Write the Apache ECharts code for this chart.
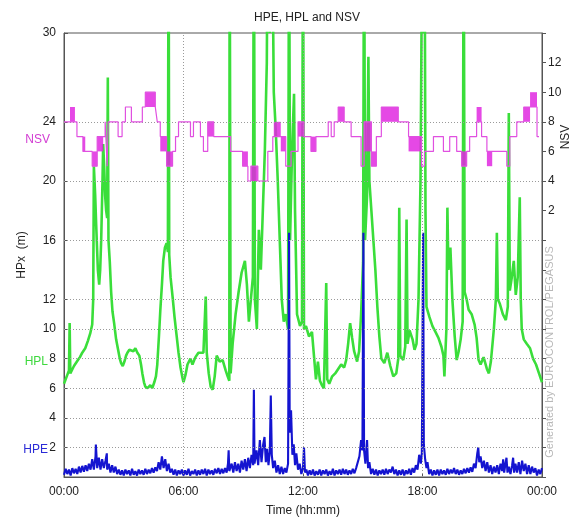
<!DOCTYPE html>
<html>
<head>
<meta charset="utf-8">
<script src="https://cdn.jsdelivr.net/npm/echarts@6/dist/echarts.min.js"></script>
<style>html,body{margin:0;padding:0;background:#fff}#c{width:578px;height:522px}</style>
</head>
<body>
<div id="c"></div>
<script>
// time in minutes since 00:00
const timeTicks = [0, 360, 720, 1080, 1440];
const timeLabels = ['00:00', '06:00', '12:00', '18:00', '00:00'];
const leftTicks = [2, 4, 6, 8, 10, 12, 16, 20, 24, 30];
const rightTicks = [2, 4, 6, 8, 10, 12];
const gridY = [2, 4, 6, 8, 10, 12, 16, 20, 24];
const gridX = [360, 720, 1080];

// HPL (m): [minute, value]
const hpl = [[0,6.3],[5,6.6],[10,6.9],[15,7.2],[17,10.4],[19,7.0],[25,6.9],[30,7.5],[36,7.6],[42,7.9],[48,8.1],[55,8.4],[64,8.7],[72,9.2],[79,9.7],[85,10.3],[88,12],[90,21.0],[94,19],[97,17],[102,14],[106,13.0],[109,14],[112,16],[116,20],[118,22.5],[121,21],[124,19],[127,18],[130,17.5],[132,27],[134,16],[138,14.5],[142,12.5],[146,11.2],[151,10.4],[157,9.3],[163,8.6],[168,8.0],[172,7.7],[177,7.5],[182,7.8],[187,8.2],[191,8.4],[197,8.6],[203,8.7],[209,8.5],[215,8.7],[221,8.4],[227,8.2],[232,7.6],[236,7.0],[241,6.4],[245,6.1],[252,6.0],[260,6.2],[266,6.0],[272,6.4],[277,6.8],[281,7.6],[286,9.5],[290,11.2],[295,13],[299,14.6],[304,15.5],[309,15.8],[313,15.2],[315,40],[317,15],[321,13.5],[327,12.2],[333,10.8],[339,9.6],[345,8.4],[351,7.4],[356,6.8],[360,6.4],
[366,6.9],[372,7.6],[381,8.0],[387,7.6],[396,8.1],[405,8.4],[411,8.5],[420,8.4],[427,12.2],[430,8.4],[436,7.0],[442,6.1],[448,5.9],[454,6.8],[460,8.2],[469,7.8],[478,7.9],[487,7.2],[493,6.8],[498,6.5],[499,40],[502,7.0],[508,9],[517,11],[526,12.5],[535,13.8],[545,14.6],[551,13],[557,10.5],[563,12],[569,13.5],[572,40],[575,12],[581,10],[587,16.7],[593,14],[599,18],[605,22],[611,28],[614,40],[620,30],[626,40],[632,26],[638,23.4],[644,20],[650,16],[656,12],[662,10.5],[668,11],[675,10],[678,40],[681,16],[687,22],[693,25.9],[696,18],[702,11],[711,10.2],[717,10.5],[720,40],[723,10],
[729,10.2],[738,9.5],[747,9.8],[753,9.8],[759,6.6],[765,7.8],[771,6.5],[777,6.2],[783,6.0],[790,13.1],[793,6.6],[799,6.3],[808,6.8],[817,7.0],[826,7.3],[835,7.6],[844,7.4],[850,7.9],[856,9.0],[862,10.4],[868,9.4],[874,8.5],[883,7.8],[889,8.5],[895,11],[901,14.5],[904,40],[907,16],[913,19],[917,28.4],[920,20],[926,18],[932,16],[938,14],[944,11.5],[950,9.5],[956,8.0],[965,7.7],[974,8.4],[983,7.5],[992,6.8],[1001,7.0],[1007,8.0],[1010,18.2],[1013,8.2],[1022,7.9],[1028,8.8],[1032,17.4],[1035,9.0],[1041,9.9],[1050,9.3],[1056,8.6],[1062,9.0],[1068,12],[1074,20],[1080,40],[1083,30],[1086,40],[1089,18],
[1092,11.5],[1101,10.8],[1110,10.2],[1119,9.8],[1128,9.4],[1137,8.8],[1143,8.2],[1146,6.8],[1152,10],[1155,18.2],[1158,14],[1164,15.5],[1170,12],[1177,9.5],[1183,7.9],[1189,8.5],[1195,9.3],[1201,10.5],[1204,40],[1207,12.5],[1213,12.0],[1219,11.3],[1228,11.0],[1237,10.3],[1243,9.4],[1249,7.9],[1255,7.6],[1264,8.1],[1274,7.3],[1280,7.0],[1286,7.8],[1295,10],[1301,12],[1304,16.5],[1307,12],[1313,11.7],[1322,11.0],[1331,10.6],[1337,11.5],[1340,24.6],[1343,12.6],[1349,13.5],[1355,14.6],[1361,12.3],[1367,13.5],[1373,18.9],[1376,12],[1379,10],[1385,9.3],[1394,9.0],[1404,8.7],[1413,8.0],[1422,7.6],[1431,7.0],[1440,6.4]];

// HPE (m): [minute, value] (read along the noisy band, low/high extremes)
const hpe = [[0,0.15],[5,0.55],[10,0.2],[15,0.5],[20,0.1],[25,0.6],[30,0.25],[35,0.55],[40,0.2],[45,0.7],[50,0.3],[55,0.75],[60,0.35],[65,0.8],[70,0.4],[75,0.9],[80,0.5],
[85,1.2],[90,0.5],[95,1.4],[96,2.2],[100,0.6],[105,1.3],[110,0.5],[115,1.2],[120,0.6],[125,1.1],[129,1.6],[130,0.5],
[135,0.9],[140,0.3],[145,0.8],[150,0.3],[155,0.7],[160,0.2],
[165,0.5],[170,0.15],[175,0.45],[180,0.1],[185,0.5],[190,0.2],[195,0.45],[200,0.1],[205,0.55],[210,0.15],[215,0.4],[220,0.1],[225,0.5],[230,0.2],[235,0.45],[240,0.15],[245,0.55],[250,0.2],[255,0.5],[260,0.25],[265,0.6],[270,0.3],[275,0.65],
[280,0.4],[285,1.0],[290,0.5],[295,1.4],[300,0.6],[305,1.2],[310,0.4],[315,0.9],[320,0.3],
[325,0.55],[330,0.15],[335,0.5],[340,0.1],[345,0.45],[350,0.2],[355,0.5],[360,0.1],[365,0.45],[370,0.15],[375,0.55],[380,0.1],[385,0.4],[390,0.2],[395,0.5],[400,0.1],[405,0.45],[410,0.15],[415,0.5],[420,0.2],[425,0.55],[430,0.1],[435,0.5],[440,0.2],[445,0.45],[450,0.15],[455,0.55],[460,0.25],[465,0.6],[470,0.2],[475,0.55],[480,0.25],[485,0.6],
[490,0.3],[494,0.9],[496,1.8],[498,0.4],[505,0.9],[510,0.3],[515,1.0],[520,0.4],[525,0.9],[530,0.3],[535,1.1],[540,0.5],[545,1.2],[550,0.4],[555,1.3],
[560,0.6],[565,1.5],[570,0.8],[572,5.9],[574,0.9],[580,1.8],[585,0.8],[590,2.5],[595,1.0],[600,2.2],[604,2.7],[608,1.0],[612,1.9],[616,0.8],[620,1.7],[623,5.5],[626,1.5],[630,0.6],
[635,1.1],[640,0.3],[645,0.8],[650,0.2],[655,0.7],[660,0.2],[665,0.6],[670,0.3],[675,0.9],[678,16.5],
[680,3.0],[684,4.5],[688,1.5],[692,2.2],[696,0.8],[700,1.6],[705,0.5],[710,0.9],[715,0.2],[720,0.6],[723,2.0],[726,0.3],
[730,0.5],[735,0.1],[740,0.45],[745,0.15],[750,0.5],[755,0.1],[760,0.4],[765,0.15],[770,0.5],[775,0.1],[780,0.45],[785,0.2],[790,0.5],[795,0.1],[800,0.4],[805,0.15],[810,0.55],[815,0.1],[820,0.45],[825,0.2],[830,0.5],[835,0.15],[840,0.55],[845,0.2],[850,0.5],[855,0.15],[860,0.45],[865,0.2],[870,0.55],[875,0.25],[880,0.6],
[885,0.5],[890,1.4],[895,2.5],[899,1.8],[902,16.5],[904,1.8],[908,0.9],[913,2.5],[916,0.6],[920,1.0],
[925,0.2],[930,0.55],[935,0.15],[940,0.5],[945,0.1],[950,0.45],[955,0.2],[960,0.5],[965,0.15],[970,0.55],[975,0.2],[980,0.5],[985,0.3],[990,0.7],[995,0.2],[1000,0.5],[1005,0.1],[1010,0.45],[1015,0.15],[1020,0.5],[1025,0.1],[1030,0.45],[1035,0.2],[1040,0.55],[1045,0.15],[1050,0.6],[1055,0.3],
[1060,0.8],[1065,0.5],[1070,1.5],[1075,0.9],[1078,1.6],[1082,16.5],[1084,2.2],[1088,1.2],[1092,0.6],[1095,1.0],
[1100,0.2],[1105,0.5],[1110,0.1],[1115,0.45],[1120,0.15],[1125,0.5],[1130,0.1],[1135,0.5],[1140,0.2],[1145,0.45],[1150,0.15],[1155,0.55],[1160,0.2],[1165,0.5],[1170,0.25],[1175,0.6],[1180,0.2],[1185,0.5],[1190,0.15],[1195,0.45],[1200,0.2],[1205,0.55],[1210,0.25],[1215,0.6],[1220,0.3],[1225,0.65],[1230,0.35],
[1235,0.9],[1240,0.6],[1245,1.6],[1248,2.0],[1251,1.0],[1255,1.4],[1260,0.6],[1265,1.1],
[1270,0.4],[1275,1.0],[1280,0.3],[1285,0.8],[1290,0.2],[1295,0.7],[1300,0.3],[1305,0.8],[1310,0.2],[1315,0.9],[1320,0.4],[1323,1.2],[1326,0.3],[1330,0.9],[1333,1.3],[1336,0.3],[1340,0.7],[1345,0.2],[1350,0.8],[1353,1.3],[1356,0.3],[1360,0.9],[1365,0.3],[1370,1.0],[1375,0.2],[1380,1.1],[1385,0.4],[1390,0.9],[1395,0.2],[1400,0.8],[1405,0.2],[1410,0.7],[1415,0.3],[1420,0.6],[1425,0.1],[1430,0.5],[1435,0.2],[1440,0.6]];

// NSV steps: [minute, satellites] (value held until next point)
const nsv = [[0,8],[39,7],[57,6],[85,5],[100,7],[124,8],[130,5],[133,8],[163,7],[175,8],[185,9],[203,8],[236,9],[245,10],[275,9],[281,8],[290,7],[309,5],[327,6],[336,7],[345,8],[381,7],[390,8],[411,7],[420,6],[433,8],[451,7],[502,6],[538,5],[554,4],[563,5],[584,4],[614,6],[629,7],[668,5],[684,6],[705,8],[723,7],[744,6],[759,7],[796,8],[805,7],[814,8],[826,9],[844,8],[865,7],[895,5],[904,8],[926,5],[941,7],[956,9],[1007,8],[1038,7],[1077,5],[1086,6],[1113,7],[1143,6],[1162,7],[1183,6],[1198,5],[1213,6],[1222,7],[1243,8],[1258,7],[1274,6],[1334,5],[1343,7],[1364,8],[1385,9],[1404,9],[1425,7],[1431,7]];

// NSV rapid toggling intervals: [start minute, end minute, low, high]
const nsvBlocks = [[18,33,8,9],[57,64,6,7],[85,100,5,6],[100,118,6,7],[245,275,9,10],[290,309,6,7],[309,327,5,6],[433,451,7,8],[538,554,5,6],[563,584,4,5],[632,653,7,8],[653,668,6,7],[705,723,7,8],[744,759,6,7],[826,844,8,9],[904,926,6,8],[926,941,5,6],[956,1007,8,9],[1038,1077,6,7],[1198,1213,5,6],[1243,1258,8,9],[1274,1290,5,6],[1385,1404,8,9],[1404,1425,9,10]];

const FONT = 'Liberation Sans, Arial, sans-serif';
const txt = {fontFamily: FONT, fontSize: 12, color: '#222'};
const chart = echarts.init(document.getElementById('c'), null, {renderer: 'canvas'});
chart.setOption({
  animation: false,
  backgroundColor: '#fff',
  title: {text: 'HPE, HPL and NSV', left: 302, top: 7, textAlign: 'center',
    textStyle: {fontFamily: FONT, fontSize: 12, fontWeight: 'normal', color: '#222'}},
  grid: {left: 64, right: 36, top: 33, bottom: 45, show: true, borderColor: '#555', borderWidth: 1, backgroundColor: '#fff'},
  xAxis: {
    type: 'value', min: 0, max: 1440, interval: 360,
    name: 'Time (hh:mm)', nameLocation: 'middle', nameGap: 28,
    nameTextStyle: txt,
    axisLine: {lineStyle: {color: '#555'}},
    axisTick: {inside: true, length: 4, lineStyle: {color: '#555'}},
    axisLabel: Object.assign({margin: 9, formatter: v => timeLabels[timeTicks.indexOf(v)] || ''}, txt),
    splitLine: {show: false}
  },
  yAxis: [{
    type: 'value', min: 0, max: 30, interval: 2, position: 'left',
    name: 'HPx  (m)', nameLocation: 'middle', nameGap: 36, nameRotate: 90,
    nameTextStyle: txt,
    axisLine: {show: true, lineStyle: {color: '#555'}},
    axisTick: {inside: true, length: 4, lineStyle: {color: '#555'}, customValues: leftTicks},
    axisLabel: Object.assign({margin: 8, customValues: leftTicks,
      formatter: v => leftTicks.indexOf(v) >= 0 ? String(v) : ''}, txt),
    splitLine: {show: false}
  }, {
    type: 'value', min: -16, max: 14, interval: 2, position: 'right',
    axisLine: {show: true, lineStyle: {color: '#555'}},
    axisTick: {inside: false, length: 4, lineStyle: {color: '#555'}},
    axisLabel: Object.assign({margin: 6, formatter: v => rightTicks.indexOf(v) >= 0 ? String(v) : ''}, txt),
    splitLine: {show: false}
  }],
  graphic: [
    {type: 'text', position: [566, 137], rotation: Math.PI / 2, style: {text: 'NSV', align: 'center', verticalAlign: 'middle', fill: '#222', font: '12px ' + FONT}},
    {type: 'text', position: [50, 140], style: {text: 'NSV', align: 'right', verticalAlign: 'middle', fill: '#d23cd2', font: '12px ' + FONT}},
    {type: 'text', position: [48, 362], style: {text: 'HPL', align: 'right', verticalAlign: 'middle', fill: '#3ed83e', font: '12px ' + FONT}},
    {type: 'text', position: [48, 450], style: {text: 'HPE', align: 'right', verticalAlign: 'middle', fill: '#2a2ad6', font: '12px ' + FONT}},
    {type: 'text', position: [550, 352], rotation: Math.PI / 2, style: {text: 'Generated by EUROCONTROL/PEGASUS', align: 'center', verticalAlign: 'middle', fill: '#b8b8b8', font: '11px ' + FONT}}
  ],
  series: [
    {
      type: 'line', name: 'grid', data: [], z: 1, silent: true,
      markLine: {
        silent: true, symbol: 'none', label: {show: false}, animation: false,
        lineStyle: {type: [1, 2], color: '#9a9a9a', width: 1},
        data: gridY.map(v => ({yAxis: v})).concat(gridX.map(v => ({xAxis: v})))
      }
    },
    {
      type: 'line', name: 'HPL', data: hpl, yAxisIndex: 0, showSymbol: false, clip: true, z: 2,
      lineStyle: {color: '#3ade3a', width: 2.6}, itemStyle: {color: '#3ade3a'}
    },
    {
      type: 'line', name: 'HPE', data: hpe, yAxisIndex: 0, showSymbol: false, clip: true, z: 3,
      lineStyle: {color: '#1414d0', width: 2.1}, itemStyle: {color: '#1414d0'}
    },
    {
      type: 'custom', name: 'NSV blocks', yAxisIndex: 1, data: nsvBlocks, z: 4, clip: true,
      encode: {x: [0, 1], y: [2, 3]},
      renderItem: (params, api) => {
        const p0 = api.coord([api.value(0), api.value(2)]);
        const p1 = api.coord([api.value(1), api.value(3)]);
        return {type: 'rect', shape: {x: p0[0], y: p1[1], width: p1[0] - p0[0], height: p0[1] - p1[1]},
          style: {fill: '#e028e0', opacity: 0.85}};
      }
    },
    {
      type: 'line', name: 'NSV', data: nsv, yAxisIndex: 1, step: 'end', showSymbol: false, z: 5,
      lineStyle: {color: '#e050e0', width: 1.2}, itemStyle: {color: '#e050e0'}
    }
  ]
});
</script>
</body>
</html>
